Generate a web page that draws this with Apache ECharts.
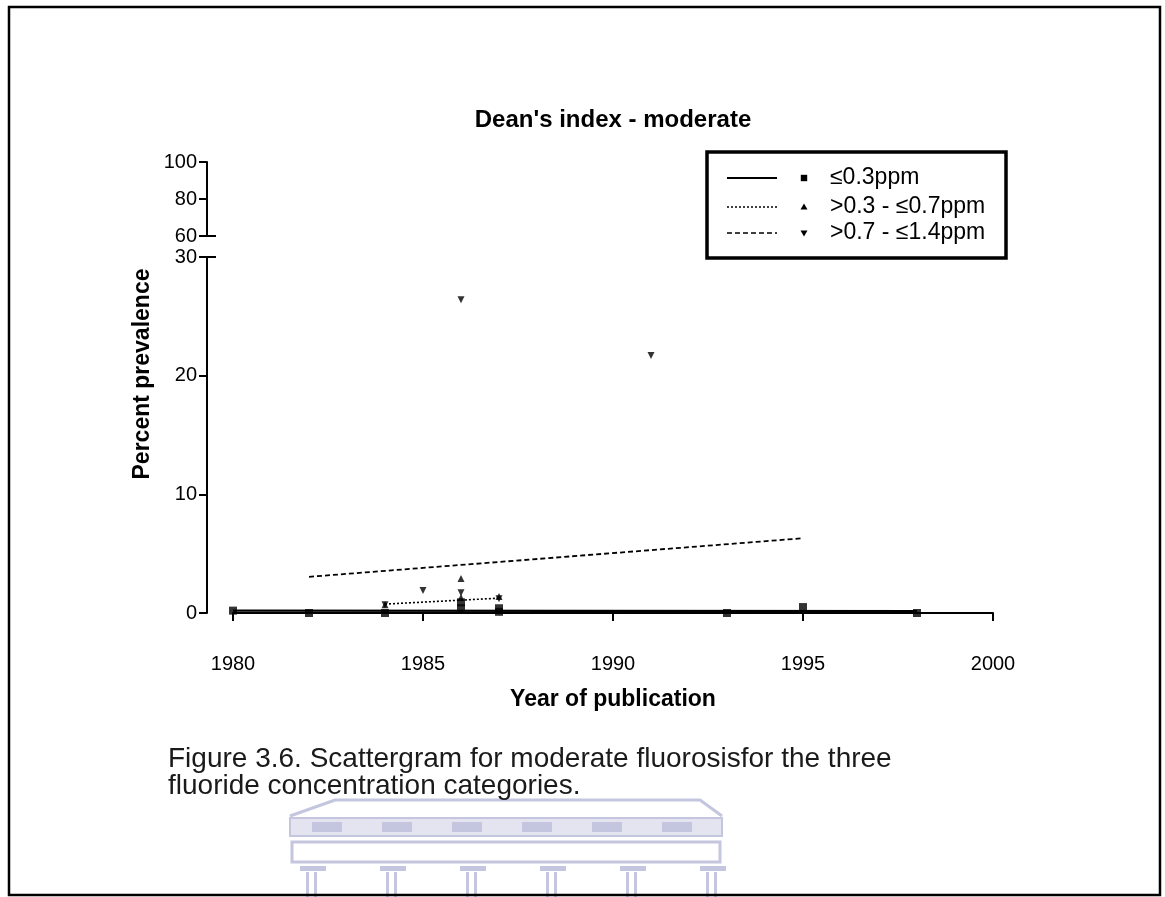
<!DOCTYPE html>
<html>
<head>
<meta charset="utf-8">
<script src="https://cdn.jsdelivr.net/npm/echarts@6/dist/echarts.min.js"></script>
<style>
html,body{margin:0;padding:0;background:#fff;}
#chart{width:1165px;height:897px;}
</style>
</head>
<body>
<div id="chart"></div>
<script>
// ---- data ----
const seriesNames = ['\u22640.3ppm', '>0.3 - \u22640.7ppm', '>0.7 - \u22641.4ppm'];
const titleText = "Dean's index - moderate";
const xName = 'Year of publication';
const yName = 'Percent prevalence';
const captionLines = ['Figure 3.6. Scattergram for moderate fluorosisfor the three', 'fluoride concentration categories.'];
const xTicks = [1980, 1985, 1990, 1995, 2000];
const lowerTicks = [0, 10, 20, 30];
const upperTicks = [60, 80, 100];

const lowYears  = [1980, 1982, 1984, 1986, 1986, 1987, 1987, 1993, 1995, 1998];
const lowValues = [0.2,  0,    0,    0.4,  0.9,  0.1,  0.4,  0,    0.5,  0];
const midYears  = [1984, 1986, 1986, 1987];
const midValues = [0.7,  2.9,  1.3,  1.4];
const highYears  = [1984, 1985, 1986, 1986, 1987, 1991];
const highValues = [0.7,  1.9,  26.4, 1.7,  1.2,  21.7];

const lowFitYears = [1980, 1998];  const lowFitValues = [0.2, 0.15];
const midFitYears = [1984, 1987];  const midFitValues = [0.75, 1.25];
const highFitYears = [1982, 1995]; const highFitValues = [3.05, 6.3];

const pairs = (xs, ys) => xs.map((x, i) => [x, ys[i]]);
const FONT = '"Liberation Sans", Arial, Helvetica, sans-serif';

const lineStyles = [
  {color: '#000', width: 2.2, type: 'solid'},
  {color: '#000', width: 1.6, type: [2, 2]},
  {color: '#000', width: 1.8, type: [5, 3]}
];
const symbols = ['rect', 'triangle', 'triangle'];
const symRot = [0, 0, 180];
const symSize = [8, 7, 7];

const chart = echarts.init(document.getElementById('chart'), null, {renderer: 'canvas'});

const axisCommon = {
  axisLine: {show: true, lineStyle: {color: '#000', width: 2}},
  axisTick: {show: true, length: 8, lineStyle: {color: '#000', width: 2}},
  axisLabel: {color: '#000', fontSize: 20, fontFamily: FONT, margin: 10, formatter: v => String(v)},
  splitLine: {show: false}
};

const option = {
  animation: false,
  backgroundColor: '#fff',
  grid: [
    {left: 233, right: 172, top: 257, bottom: 284},
    {left: 233, right: 172, top: 162, bottom: 661}
  ],
  xAxis: [
    Object.assign({}, axisCommon, {
      type: 'value', gridIndex: 0, min: 1980, max: 2000, interval: 5, offset: 28,
      name: xName, nameLocation: 'middle', nameGap: 47,
      nameTextStyle: {color: '#000', fontSize: 23, fontWeight: 'bold', fontFamily: FONT},
      axisLabel: {color: '#000', fontSize: 20, fontFamily: FONT, margin: 13, formatter: v => String(v)}
    }),
    {type: 'value', gridIndex: 1, min: 1980, max: 2000, show: false}
  ],
  yAxis: [
    Object.assign({}, axisCommon, {
      type: 'value', gridIndex: 0, min: 0, max: 30, interval: 10, offset: 26
    }),
    Object.assign({}, axisCommon, {
      type: 'value', gridIndex: 1, min: 60, max: 100, interval: 20, offset: 26
    })
  ],
  series: [
    {name: seriesNames[0] + ' fit', type: 'line', xAxisIndex: 0, yAxisIndex: 0, data: pairs(lowFitYears, lowFitValues), showSymbol: false, lineStyle: lineStyles[0], z: 2},
    {name: seriesNames[1] + ' fit', type: 'line', xAxisIndex: 0, yAxisIndex: 0, data: pairs(midFitYears, midFitValues), showSymbol: false, lineStyle: lineStyles[1], z: 2},
    {name: seriesNames[2] + ' fit', type: 'line', xAxisIndex: 0, yAxisIndex: 0, data: pairs(highFitYears, highFitValues), showSymbol: false, lineStyle: lineStyles[2], z: 2},
    {name: seriesNames[0], type: 'scatter', xAxisIndex: 0, yAxisIndex: 0, data: pairs(lowYears, lowValues), symbol: symbols[0], symbolSize: symSize[0], itemStyle: {color: '#000'}, z: 3},
    {name: seriesNames[1], type: 'scatter', xAxisIndex: 0, yAxisIndex: 0, data: pairs(midYears, midValues), symbol: symbols[1], symbolSize: symSize[1], itemStyle: {color: '#000'}, z: 3},
    {name: seriesNames[2], type: 'scatter', xAxisIndex: 0, yAxisIndex: 0, data: pairs(highYears, highValues), symbol: symbols[2], symbolRotate: symRot[2], symbolSize: symSize[2], itemStyle: {color: '#000'}, z: 3}
  ]
};
chart.setOption(option);

// ---- decorations: title, y name, legend, caption, frame, watermark ----
const plotCenterX = (chart.convertToPixel({xAxisIndex: 0}, 1980) + chart.convertToPixel({xAxisIndex: 0}, 2000)) / 2;
const yAxisX = 233 - 26;
const y60 = chart.convertToPixel({yAxisIndex: 1}, 60);
const y30 = chart.convertToPixel({yAxisIndex: 0}, 30);

const g = [];
// outer frame
g.push({type: 'rect', shape: {x: 9, y: 7, width: 1151, height: 888}, style: {fill: 'none', stroke: '#000', lineWidth: 2.5}, z: 10});
// title
g.push({type: 'text', x: plotCenterX, y: 120, style: {text: titleText, font: 'bold 24px ' + FONT, fill: '#000', textAlign: 'center', textVerticalAlign: 'middle'}});
// y axis name
g.push({type: 'text', x: 143, y: 374, rotation: Math.PI / 2, style: {text: yName, font: 'bold 23px ' + FONT, fill: '#000', textAlign: 'center', textVerticalAlign: 'middle'}});
// axis break marks
g.push({type: 'line', shape: {x1: yAxisX, y1: y60, x2: yAxisX + 9, y2: y60}, style: {stroke: '#000', lineWidth: 2}});
g.push({type: 'line', shape: {x1: yAxisX, y1: y30, x2: yAxisX + 9, y2: y30}, style: {stroke: '#000', lineWidth: 2}});

// legend box
const lgX = 707, lgY = 152, lgW = 299, lgH = 106;
g.push({type: 'rect', shape: {x: lgX, y: lgY, width: lgW, height: lgH}, style: {fill: '#fff', stroke: '#000', lineWidth: 3.5}, z: 5});
const rowY = [178, 207, 233];
seriesNames.forEach((nm, i) => {
  const ls = lineStyles[i];
  g.push({type: 'line', shape: {x1: 727, y1: rowY[i], x2: 777, y2: rowY[i]},
    style: {stroke: '#000', lineWidth: i === 0 ? 2 : 1.3, lineDash: ls.type === 'solid' ? null : ls.type}, z: 6});
  const s = 3.2;
  if (i === 0) {
    g.push({type: 'rect', shape: {x: 804 - s, y: rowY[i] - s, width: 2 * s, height: 2 * s}, style: {fill: '#000'}, z: 6});
  } else if (i === 1) {
    g.push({type: 'polygon', shape: {points: [[804, rowY[i] - 3.5], [800.5, rowY[i] + 2.5], [807.5, rowY[i] + 2.5]]}, style: {fill: '#000'}, z: 6});
  } else {
    g.push({type: 'polygon', shape: {points: [[804, rowY[i] + 3.5], [800.5, rowY[i] - 2.5], [807.5, rowY[i] - 2.5]]}, style: {fill: '#000'}, z: 6});
  }
  g.push({type: 'text', x: 830, y: rowY[i], style: {text: nm, font: '23px ' + FONT, fill: '#000', textAlign: 'left', textVerticalAlign: 'middle'}, z: 6});
});

// watermark (light building logo behind caption)
const wm = '#c3c6de';
g.push({type: 'polyline', shape: {points: [[290, 816], [335, 800], [700, 800], [722, 816]]}, style: {stroke: wm, lineWidth: 3, fill: 'none'}, z: 0});
g.push({type: 'rect', shape: {x: 290, y: 818, width: 432, height: 18}, style: {fill: '#e3e4f0', stroke: wm, lineWidth: 2}, z: 0});
for (let k = 0; k < 6; k++) {
  g.push({type: 'rect', shape: {x: 312 + k * 70, y: 822, width: 30, height: 10}, style: {fill: wm}, z: 0});
}
g.push({type: 'rect', shape: {x: 292, y: 842, width: 428, height: 20}, style: {fill: '#fff', stroke: wm, lineWidth: 3}, z: 0});
for (let k = 0; k < 6; k++) {
  const cx = 310 + k * 80;
  g.push({type: 'rect', shape: {x: cx - 10, y: 866, width: 26, height: 5}, style: {fill: wm}, z: 0});
  g.push({type: 'rect', shape: {x: cx - 4, y: 872, width: 3, height: 25}, style: {fill: wm}, z: 0});
  g.push({type: 'rect', shape: {x: cx + 4, y: 872, width: 3, height: 25}, style: {fill: wm}, z: 0});
}

// caption
captionLines.forEach((t, i) => {
  g.push({type: 'text', x: 168, y: 759 + i * 27, style: {text: t, font: '28px ' + FONT, fill: '#1a1a1a', textAlign: 'left', textVerticalAlign: 'middle'}, z: 4});
});

chart.setOption({graphic: {elements: g}});
</script>
</body>
</html>
